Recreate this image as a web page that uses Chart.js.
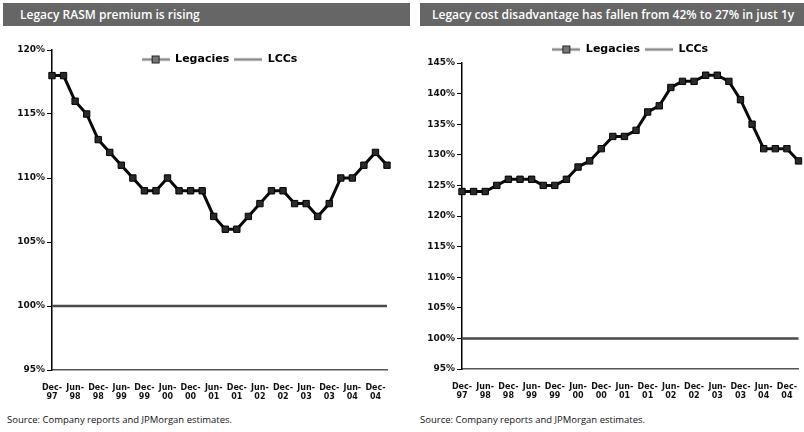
<!DOCTYPE html>
<html>
<head>
<meta charset="utf-8">
<script src="https://cdn.jsdelivr.net/npm/chart.js@4.4.1/dist/chart.umd.min.js"></script>
<style>
  body { margin: 0; width: 804px; height: 432px; background: #fff; position: relative; overflow: hidden; font-family: "Open Sans", sans-serif; }
  .title-bar { position: absolute; top: 3px; height: 23px; background: #666; color: #fff; font-size: 12px; font-weight: 600; line-height: 23px; white-space: nowrap; overflow: hidden; }
  .source { position: absolute; top: 413px; font-size: 9.5px; color: #111; }
  .panel { position: absolute; top: 28px; height: 382px; }
</style>
</head>
<body>
<div class="title-bar" style="left:3px;width:407px;padding-left:17px;box-sizing:border-box;">Legacy RASM premium is rising</div>
<div class="title-bar" style="left:420px;width:384px;padding-left:12px;box-sizing:border-box;">Legacy cost disadvantage has fallen from 42% to 27% in just 1y</div>

<div class="panel" style="left:0;width:404px;"><canvas id="rasm-chart"></canvas></div>
<div class="panel" style="left:404px;width:400px;"><canvas id="cost-chart"></canvas></div>

<div class="source" style="left:7px;">Source: Company reports and JPMorgan estimates.</div>
<div class="source" style="left:420px;">Source: Company reports and JPMorgan estimates.</div>

<script>
// Data
const quarters = [
  "Dec-97", "Mar-98", "Jun-98", "Sep-98", "Dec-98", "Mar-99", "Jun-99", "Sep-99",
  "Dec-99", "Mar-00", "Jun-00", "Sep-00", "Dec-00", "Mar-01", "Jun-01", "Sep-01",
  "Dec-01", "Mar-02", "Jun-02", "Sep-02", "Dec-02", "Mar-03", "Jun-03", "Sep-03",
  "Dec-03", "Mar-04", "Jun-04", "Sep-04", "Dec-04", "Mar-05",
];

const rasmLegacies = [118, 118, 116, 115, 113, 112, 111, 110, 109, 109, 110, 109, 109, 109, 107,
  106, 106, 107, 108, 109, 109, 108, 108, 107, 108, 110, 110, 111, 112, 111];
const rasmLCCs = [100, 100, 100, 100, 100, 100, 100, 100, 100, 100, 100, 100, 100, 100, 100,
  100, 100, 100, 100, 100, 100, 100, 100, 100, 100, 100, 100, 100, 100, 100];

const costLegacies = [124, 124, 124, 125, 126, 126, 126, 125, 125, 126, 128, 129, 131, 133, 133,
  134, 137, 138, 141, 142, 142, 143, 143, 142, 139, 135, 131, 131, 131, 129];
const costLCCs = [100, 100, 100, 100, 100, 100, 100, 100, 100, 100, 100, 100, 100, 100, 100,
  100, 100, 100, 100, 100, 100, 100, 100, 100, 100, 100, 100, 100, 100, 100];

const seriesNames = ["Legacies", "LCCs"];

// Legend samples (line with marker, like the old spreadsheet legend)
function makeLegendSample(withMarker, lineColor) {
  const c = document.createElement("canvas");
  c.width = 28;
  c.height = 10;
  const ctx = c.getContext("2d");
  ctx.strokeStyle = lineColor;
  ctx.lineWidth = 2.5;
  ctx.beginPath();
  ctx.moveTo(0, 5);
  ctx.lineTo(28, 5);
  ctx.stroke();
  if (withMarker) {
    ctx.fillStyle = "#777";
    ctx.fillRect(10, 1, 8, 8);
    ctx.strokeStyle = "#222";
    ctx.lineWidth = 1;
    ctx.strokeRect(10.5, 1.5, 7, 7);
  }
  return c;
}

const legendSamples = [makeLegendSample(true, "#888"), makeLegendSample(false, "#888")];

// Lets the legend float over the plot instead of taking room above it
const floatingLegend = {
  id: "floatingLegend",
  beforeLayout(chart) {
    const legend = chart.legend;
    if (!legend || legend._floatPatched) {
      return;
    }
    const fit = legend.fit;
    legend.fit = function () {
      fit.call(this);
      this._realHeight = this.height;
      this.height = 0;
    };
    legend._floatPatched = true;
  },
  afterLayout(chart, args, opts) {
    const legend = chart.legend;
    const area = chart.chartArea;
    legend.left = area.left;
    legend.right = area.right;
    legend.width = area.right - area.left;
    legend.height = legend._realHeight;
    legend.top = area.top + opts.offset;
    legend.bottom = legend.top + legend.height;
  },
};

function buildDatasets(legacies, lccs) {
  return [
    {
      label: seriesNames[0],
      data: legacies,
      borderColor: "#0a0a0a",
      borderWidth: 3,
      pointStyle: "rect",
      pointRadius: 4.5,
      pointBackgroundColor: "#2a2a2a",
      pointBorderColor: "#000",
      pointBorderWidth: 1,
      tension: 0,
    },
    {
      label: seriesNames[1],
      data: lccs,
      borderColor: "#4a4a4a",
      borderWidth: 2.5,
      pointRadius: 0,
      tension: 0,
    },
  ];
}

function xTickLabel(value, index) {
  if (index % 2 !== 0) {
    return "";
  }
  const parts = quarters[index].split("-");
  return [parts[0] + "-", parts[1]];
}

function createChartConfig(legacies, lccs, yMin, yMax, setup) {
  return {
    type: "line",
    data: {
      labels: quarters,
      datasets: buildDatasets(legacies, lccs),
    },
    plugins: [floatingLegend],
    options: {
      responsive: true,
      maintainAspectRatio: false,
      animation: false,
      layout: {
        padding: setup.padding,
      },
      plugins: {
        floatingLegend: { offset: setup.legendOffset },
        legend: {
          position: "top",
          labels: {
            usePointStyle: true,
            pointStyleWidth: 28,
            padding: 5,
            color: "#000",
            font: { family: "DejaVu Sans", size: 11, weight: "bold" },
            generateLabels(chart) {
              const items = Chart.defaults.plugins.legend.labels.generateLabels(chart);
              items.forEach((item, i) => {
                item.pointStyle = legendSamples[i];
              });
              return items;
            },
          },
        },
        tooltip: { enabled: false },
      },
      scales: {
        x: {
          offset: false,
          grid: { display: false },
          border: { display: true, color: "#555", width: 1.5 },
          ticks: {
            autoSkip: false,
            maxRotation: 0,
            padding: 5,
            color: "#111",
            font: { family: "DejaVu Sans", size: 8, weight: "bold" },
            callback: xTickLabel,
          },
          afterFit(scale) {
            scale.height = setup.xHeight;
          },
        },
        y: {
          min: yMin,
          max: yMax,
          grid: { drawOnChartArea: false, color: "#000", tickLength: 5 },
          border: { display: true, color: "#000", width: 1.5 },
          ticks: {
            stepSize: 5,
            padding: 2,
            color: "#111",
            font: { family: "DejaVu Sans", size: 9, weight: "bold" },
            callback: (v) => v + "%",
          },
          afterFit(scale) {
            scale.width = setup.yWidth;
          },
        },
      },
    },
  };
}

// Charts
const rasmChart = new Chart(
  document.getElementById("rasm-chart"),
  createChartConfig(rasmLegacies, rasmLCCs, 95, 120, {
    padding: { top: 22, right: 17, left: 0, bottom: 0 },
    legendOffset: -1,
    xHeight: 40,
    yWidth: 52,
  }),
);

const costChart = new Chart(
  document.getElementById("cost-chart"),
  createChartConfig(costLegacies, costLCCs, 95, 145, {
    padding: { top: 35, right: 5, left: 0, bottom: 0 },
    legendOffset: -24,
    xHeight: 41,
    yWidth: 58,
  }),
);
</script>
</body>
</html>
